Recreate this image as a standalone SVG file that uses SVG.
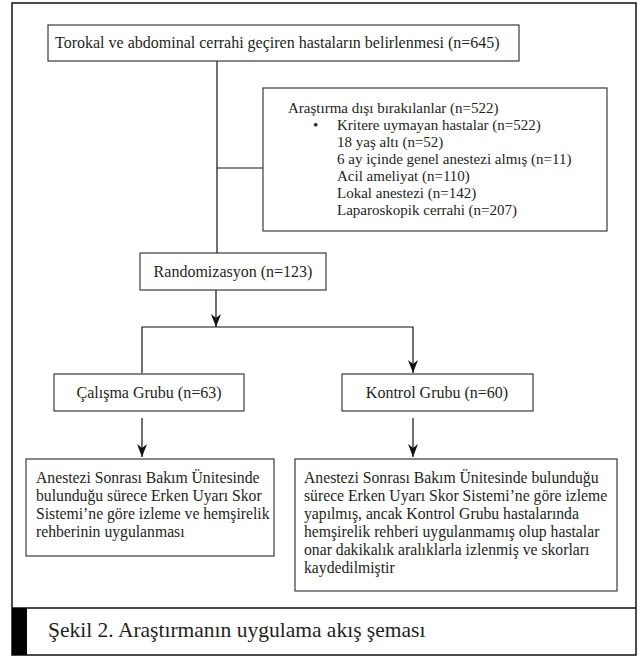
<svg xmlns="http://www.w3.org/2000/svg" width="639" height="657" viewBox="0 0 639 657">
<defs>
<style>
.box{fill:#fff;stroke:#3a3a3a;stroke-width:1.2}
.t{font-family:"Liberation Serif","Times New Roman",serif;font-size:16px;fill:#231f20}
.tb{font-family:"Liberation Serif","Times New Roman",serif;font-size:15.7px;fill:#231f20}
.ts{font-family:"Liberation Serif","Times New Roman",serif;font-size:15px;fill:#231f20}
.cap{font-family:"Liberation Serif","Times New Roman",serif;font-size:21.5px;fill:#231f20}
.ln{fill:none;stroke:#111;stroke-width:1.2}
</style>
<marker id="ah" viewBox="0 -5 13 10" refX="13" refY="0" markerWidth="13" markerHeight="10" markerUnits="userSpaceOnUse" orient="auto">
<path d="M0,-5 L13,0 L0,5 L4,0 Z" fill="#111"/>
</marker>
</defs>
<rect x="0" y="0" width="639" height="657" fill="#fff"/>
<g id="frame">
<rect x="12" y="3" width="624" height="652" fill="none" stroke="#111" stroke-width="1.5"/>
<line x1="12" y1="608" x2="636" y2="608" stroke="#111" stroke-width="1.5"/>
<rect x="12" y="608" width="15" height="47" fill="#000"/>
</g>
<g id="connectors">
<line class="ln" x1="217" y1="61" x2="217" y2="253"/>
<line class="ln" x1="217" y1="168" x2="263" y2="168"/>
<line class="ln" x1="216" y1="290" x2="216" y2="327" marker-end="url(#ah)"/>
<polyline class="ln" points="142,373 142,327 413,327 413,373" marker-start="url(#ah)" marker-end="url(#ah)"/>
<line class="ln" x1="142" y1="418" x2="142" y2="457" marker-end="url(#ah)"/>
<line class="ln" x1="413" y1="418" x2="413" y2="457" marker-end="url(#ah)"/>
</g>
<g id="n1">
<rect class="box" x="48" y="25" width="471" height="36"/>
<text class="t" x="55" y="48">Torokal ve abdominal cerrahi geçiren hastaların belirlenmesi (n=645)</text>
</g>
<g id="n2">
<rect class="box" x="263" y="88" width="344" height="143"/>
<text class="ts" x="288" y="113">Araştırma dışı bırakılanlar (n=522)</text>
<text class="ts" x="313" y="130">•</text>
<text class="ts" x="337" y="130">Kritere uymayan hastalar (n=522)</text>
<text class="ts" x="337" y="147">18 yaş altı (n=52)</text>
<text class="ts" x="337" y="164">6 ay içinde genel anestezi almış (n=11)</text>
<text class="ts" x="337" y="181">Acil ameliyat (n=110)</text>
<text class="ts" x="337" y="198">Lokal anestezi (n=142)</text>
<text class="ts" x="337" y="215">Laparoskopik cerrahi (n=207)</text>
</g>
<g id="n3">
<rect class="box" x="140" y="253" width="186" height="37"/>
<text class="t" x="233" y="277" text-anchor="middle">Randomizasyon (n=123)</text>
</g>
<g id="n4">
<rect class="box" x="54" y="374" width="190" height="37"/>
<text class="t" x="149" y="398" text-anchor="middle">Çalışma Grubu (n=63)</text>
</g>
<g id="n5">
<rect class="box" x="342" y="374" width="191" height="37"/>
<text class="t" x="437" y="398" text-anchor="middle">Kontrol Grubu (n=60)</text>
</g>
<g id="n6">
<rect class="box" x="26" y="459" width="248" height="97"/>
<text class="tb" x="36" y="483">Anestezi Sonrası Bakım Ünitesinde</text>
<text class="tb" x="36" y="501">bulunduğu sürece Erken Uyarı Skor</text>
<text class="tb" x="36" y="519">Sistemi’ne göre izleme ve hemşirelik</text>
<text class="tb" x="36" y="537">rehberinin uygulanması</text>
</g>
<g id="n7">
<rect class="box" x="295" y="459" width="322" height="132"/>
<text class="tb" x="304" y="483">Anestezi Sonrası Bakım Ünitesinde bulunduğu</text>
<text class="tb" x="304" y="501">sürece Erken Uyarı Skor Sistemi’ne göre izleme</text>
<text class="tb" x="304" y="519">yapılmış, ancak Kontrol Grubu hastalarında</text>
<text class="tb" x="304" y="537">hemşirelik rehberi uygulanmamış olup hastalar</text>
<text class="tb" x="304" y="555">onar dakikalık aralıklarla izlenmiş ve skorları</text>
<text class="tb" x="304" y="573">kaydedilmiştir</text>
</g>
<g id="caption">
<text class="cap" x="48" y="637">Şekil 2. Araştırmanın uygulama akış şeması</text>
</g>
</svg>
